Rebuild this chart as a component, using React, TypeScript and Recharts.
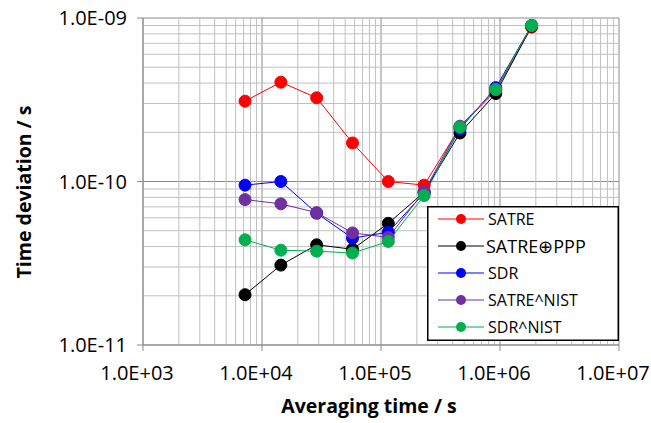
import React from 'react';
import { LineChart, Line, XAxis, YAxis, CartesianGrid, ReferenceLine, Label } from 'recharts';

// averaging times (s)
const tau = [7200, 14400, 28800, 57600, 115200, 230400, 460800, 921600, 1843200];

// time deviation (s) per link
const satre = [3.1e-10, 4.05e-10, 3.25e-10, 1.72e-10, 1.0e-10, 9.5e-11, 2.15e-10, 3.6e-10, 8.8e-10];
const satrePpp = [2.03e-11, 3.08e-11, 4.1e-11, 3.85e-11, 5.55e-11, 8.6e-11, 1.98e-10, 3.45e-10, 8.9e-10];
const sdr = [9.5e-11, 1.0e-10, 6.4e-11, 4.5e-11, 4.9e-11, 8.5e-11, 2.1e-10, 3.75e-10, 9.0e-10];
const satreNist = [7.75e-11, 7.3e-11, 6.45e-11, 4.85e-11, 4.55e-11, 8.7e-11, 2.18e-10, 3.65e-10, 9.0e-10];
const sdrNist = [4.4e-11, 3.8e-11, 3.75e-11, 3.65e-11, 4.3e-11, 8.2e-11, 2.15e-10, 3.65e-10, 9.0e-10];

const xTicks = [1e3, 1e4, 1e5, 1e6, 1e7];
const xTickLabels = ['1.0E+03', '1.0E+04', '1.0E+05', '1.0E+06', '1.0E+07'];
const yTicks = [1e-11, 1e-10, 1e-9];
const yTickLabels = ['1.0E-11', '1.0E-10', '1.0E-09'];

const minorMult = [2, 3, 4, 5, 6, 7, 8, 9];
const xMinor = xTicks.slice(0, -1).flatMap(d => minorMult.map(m => d * m));
const yMinor = yTicks.slice(0, -1).flatMap(d => minorMult.map(m => d * m));

const series = [
  { key: 'satre', name: 'SATRE', color: '#ff0000', values: satre },
  { key: 'satrePpp', name: 'SATRE\u2295PPP', color: '#000000', values: satrePpp },
  { key: 'sdr', name: 'SDR', color: '#0000ff', values: sdr },
  { key: 'satreNist', name: 'SATRE^NIST', color: '#7030a0', values: satreNist },
  { key: 'sdrNist', name: 'SDR^NIST', color: '#00b050', values: sdrNist },
];

const data = tau.map((t, i) => {
  const row: Record<string, number> = { tau: t };
  series.forEach(s => { row[s.key] = s.values[i]; });
  return row;
});

const FONT = '"Open Sans", sans-serif';
const MAJOR = '#8c8c8c';
const MINOR = '#c0c0c0';

function LegendBox() {
  return (
    <svg width={192} height={135} style={{ position: 'absolute', left: 427, top: 206, display: 'block' }}>
      <rect x={0.75} y={0.75} width={190.5} height={133.5} fill="#fff" stroke="#000" strokeWidth={1.5} />
      {series.map((s, i) => {
        const y = 13 + i * 27;
        return (
          <g key={s.key}>
            <line x1={11} x2={57} y1={y} y2={y} stroke={s.color} strokeWidth={1} />
            <circle cx={34} cy={y} r={5} fill={s.color} />
            <text x={i === 1 ? 59 : 61} y={y} dominantBaseline="central" fontSize={i === 1 ? 18 : 16} fontFamily={FONT} fill="#000">
              {s.name}
            </text>
          </g>
        );
      })}
    </svg>
  );
}

export default function App() {
  return (
    <div style={{ position: 'absolute', left: 0, top: 0, width: 651, height: 423, background: '#fff' }}>
      <LineChart
        width={651}
        height={423}
        data={data}
        margin={{ top: 18, right: 32, bottom: 0, left: 0 }}
        style={{ fontFamily: FONT }}
      >
        <CartesianGrid stroke={MAJOR} strokeWidth={1} />
        {xMinor.map(v => (
          <ReferenceLine key={'x' + v} x={v} stroke={MINOR} strokeWidth={1} />
        ))}
        {yMinor.map(v => (
          <ReferenceLine key={'y' + v} y={v} stroke={MINOR} strokeWidth={1} />
        ))}
        <XAxis
          dataKey="tau"
          type="number"
          scale="log"
          domain={[1e3, 1e7]}
          ticks={xTicks}
          interval={0}
          allowDataOverflow
          height={78}
          tickSize={6}
          tickMargin={15}
          axisLine={{ stroke: MAJOR }}
          tickLine={{ stroke: MAJOR }}
          tick={{ fill: '#000', fontSize: 20, dx: -6 }}
          tickFormatter={(v: number) => xTickLabels[xTicks.indexOf(v)] ?? ''}
        >
          <Label
            content={() => (
              <text x={369} y={413} textAnchor="middle" fontSize={19.5} fontWeight="bold" fontFamily={FONT} fill="#000">
                Averaging time / s
              </text>
            )}
          />
        </XAxis>
        <YAxis
          type="number"
          scale="log"
          domain={[1e-11, 1e-9]}
          ticks={yTicks}
          interval={0}
          allowDataOverflow
          width={143}
          tickSize={6}
          tickMargin={10}
          axisLine={{ stroke: MAJOR }}
          tickLine={{ stroke: MAJOR }}
          tick={{ fill: '#000', fontSize: 20 }}
          tickFormatter={(v: number) => {
            const i = yTicks.findIndex(t => Math.abs(t - v) / t < 1e-6);
            return i >= 0 ? yTickLabels[i] : '';
          }}
        >
          <Label
            content={() => (
              <text
                x={23}
                y={192}
                transform="rotate(-90 23 192)"
                textAnchor="middle"
                dominantBaseline="central"
                fontSize={19.5}
                fontWeight="bold"
                fontFamily={FONT}
                fill="#000"
              >
                Time deviation / s
              </text>
            )}
          />
        </YAxis>
        {series.map(s => (
          <Line
            key={s.key}
            dataKey={s.key}
            name={s.name}
            stroke={s.color}
            strokeWidth={1}
            dot={{ r: 6, fill: s.color, stroke: s.color, strokeWidth: 1 }}
            activeDot={false}
            isAnimationActive={false}
          />
        ))}
      </LineChart>
      <LegendBox />
    </div>
  );
}
